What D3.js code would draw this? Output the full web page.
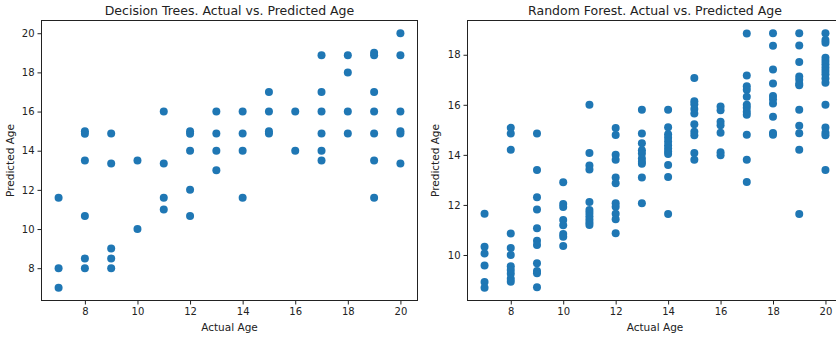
<!DOCTYPE html>
<html><head><meta charset="utf-8">
<script src="https://cdn.jsdelivr.net/npm/d3@7"></script>
<style>
html,body{margin:0;padding:0;background:#fff;overflow:hidden;}
svg{display:block;}
text{font-family:"DejaVu Sans",sans-serif;fill:#222;}
</style></head>
<body>
<svg id="c" width="836" height="338"></svg>
<script>
// Decision Trees: actual age -> predicted ages
const dtActual =    [7,7,7, 8,8,8,8,8,8, 9,9,9,9,9, 10,10, 11,11,11,11, 12,12,12,12,12, 13,13,13,13, 14,14,14,14, 15,15,15,15, 16,16, 17,17,17,17,17,17, 18,18,18,18, 19,19,19,19,19,19,19, 20,20,20,20,20,20];
const dtPredicted = [11.6,8,7, 15,14.87,13.5,10.67,8.5,8, 14.88,13.35,9,8.5,8, 13.5,10, 16,13.35,11.6,11, 15,14.87,14,12,10.67, 16,14.88,14,13, 16,14.88,14,11.6, 17,16,15,14.88, 16,14, 18.88,17,16,14.88,14,13.5, 18.88,18,16,14.88, 19,18.88,17,16,14.88,13.5,11.6, 20,18.88,16,15,14.88,13.35];

// Random Forest: actual age -> predicted ages
const rfActual = [
 7,7,7,7,7,7,
 8,8,8,8,8,8,8,8,8,8,8,
 9,9,9,9,9,9,9,9,9,9,9,
 10,10,10,10,10,10,10,10,
 11,11,11,11,11,11,11,11,11,11,11,
 12,12,12,12,12,12,12,12,12,12,12,
 13,13,13,13,13,13,13,13,13,13,
 14,14,14,14,14,14,14,14,14,14,14,14,
 15,15,15,15,15,15,15,15,15,15,
 16,16,16,16,16,16,16,
 17,17,17,17,17,17,17,17,17,17,17,17,
 18,18,18,18,18,18,18,18,18,18,
 19,19,19,19,19,19,19,19,19,19,19,19,
 20,20,20,20,20,20,20,20,20,20,20,20,20,20,20,20];
const rfPredicted = [
 11.65,10.33,10.06,9.58,8.92,8.69,
 15.08,14.85,14.2,10.86,10.28,10.0,9.55,9.4,9.25,9.05,8.93,
 14.85,13.4,12.31,11.82,11.07,10.57,10.4,9.67,9.36,9.27,8.71,
 12.91,12.04,11.92,11.4,11.19,10.84,10.73,10.36,
 16.0,14.07,13.58,13.42,12.12,11.8,11.68,11.55,11.42,11.3,11.2,
 15.07,14.79,14.0,13.8,13.1,12.87,12.07,11.93,11.65,11.43,10.87,
 15.8,14.85,14.46,14.18,14.05,13.85,13.73,13.65,13.1,12.07,
 15.8,15.1,14.82,14.68,14.53,14.38,14.25,14.13,14.03,13.6,13.12,11.64,
 17.07,16.14,16.02,15.83,15.65,15.22,14.92,14.78,14.07,13.8,
 15.93,15.78,15.32,15.18,14.88,14.1,13.98,
 18.85,17.17,16.74,16.6,16.32,16.0,15.88,15.72,15.6,14.8,13.8,12.92,
 18.86,18.36,17.41,16.85,16.35,16.22,16.05,15.52,14.87,14.8,
 18.86,18.37,17.71,17.13,17.0,16.84,16.78,15.8,15.16,14.86,14.2,11.64,
 18.86,18.59,18.48,17.88,17.75,17.62,17.48,17.35,17.22,17.05,16.88,16.0,15.09,14.88,14.78,13.4];

const xTicks = [8,10,12,14,16,18,20];
const dtYTicks = [8,10,12,14,16,18,20];
const rfYTicks = [10,12,14,16,18];

const titles = ["Decision Trees. Actual vs. Predicted Age","Random Forest. Actual vs. Predicted Age"];
const xLabel = "Actual Age", yLabel = "Predicted Age";

const svg = d3.select("#c");
const color = "#1f77b4";

function padded(vals){
  const [a,b] = d3.extent(vals); const m = (b-a)*0.05; return [a-m,b+m];
}

function panel(opt){
  const {left,right,top,bottom,xs,ys,yTicks,title,ylabX} = opt;
  const x = d3.scaleLinear().domain(padded(xs)).range([left,right]);
  const y = d3.scaleLinear().domain(padded(ys)).range([bottom,top]);
  const g = svg.append("g");
  g.selectAll("circle").data(xs.map((v,i)=>[v,ys[i]])).join("circle")
    .attr("cx",d=>x(d[0])).attr("cy",d=>y(d[1])).attr("r",4).attr("fill",color);
  const ax = g.append("g").attr("transform",`translate(0,${bottom})`)
    .call(d3.axisBottom(x).tickValues(xTicks).tickSize(4).tickPadding(3).tickFormat(d3.format("d")));
  const ay = g.append("g").attr("transform",`translate(${left},0)`)
    .call(d3.axisLeft(y).tickValues(yTicks).tickSize(4).tickPadding(3).tickFormat(d3.format("d")));
  [ax,ay].forEach(a=>{
    a.select(".domain").remove();
    a.selectAll("line").attr("stroke","#222");
    a.selectAll("text").attr("font-size","10px").attr("fill","#222").attr("font-family","DejaVu Sans");
  });
  g.append("rect").attr("x",left).attr("y",top).attr("width",right-left).attr("height",bottom-top)
    .attr("fill","none").attr("stroke","#222").attr("stroke-width",1);
  g.append("text").attr("x",(left+right)/2).attr("y",top-6).attr("text-anchor","middle")
    .attr("font-size","12.5px").text(title);
  g.append("text").attr("x",(left+right)/2).attr("y",bottom+30).attr("text-anchor","middle")
    .attr("font-size","10.5px").text(xLabel);
  g.append("text").attr("transform",`translate(${ylabX},${(top+bottom)/2}) rotate(-90)`)
    .attr("text-anchor","middle").attr("font-size","10.5px").text(yLabel);
}

panel({left:41.5,right:417.5,top:20.5,bottom:300.5,xs:dtActual,ys:dtPredicted,yTicks:dtYTicks,title:titles[0],ylabX:14});
panel({left:467.5,right:842.5,top:20.5,bottom:300.5,xs:rfActual,ys:rfPredicted,yTicks:rfYTicks,title:titles[1],ylabX:439});
</script>
</body></html>
